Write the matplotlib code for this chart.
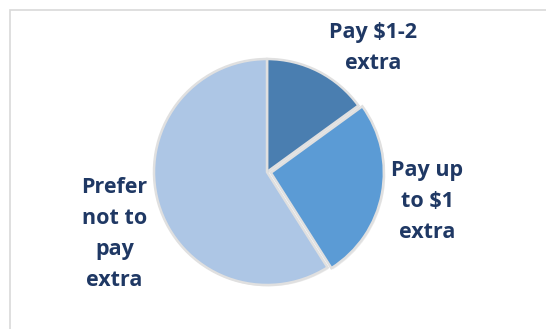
import matplotlib
matplotlib.use("Agg")
import matplotlib.pyplot as plt
import matplotlib.patheffects as pe
from matplotlib.patches import Rectangle

# willingness to pay for the option (share of respondents, %)
labels = ["Pay $1-2\nextra", "Pay up\nto $1\nextra", "Prefer\nnot to\npay\nextra"]
shares = [15, 26, 59]
colors = ["#4a7eb0", "#5b9bd5", "#adc6e5"]
explode = [0, 0.035, 0]

# label centres in data units (pie radius = 1)
label_pos = [(0.94, 1.10), (1.42, -0.26), (-1.35, -0.55)]

fig = plt.figure(figsize=(5.46, 3.29), dpi=100)
ax = fig.add_axes([0, 0, 1, 1])

wedges, texts = ax.pie(
    shares,
    labels=labels,
    colors=colors,
    explode=explode,
    startangle=90,
    counterclock=False,
    radius=1.0,
    wedgeprops=dict(edgecolor="#e0e0e0", linewidth=1.8),
    textprops=dict(fontsize=15.5, fontweight="bold", color="#1f3864",
                   family="Open Sans", linespacing=1.62),
)

for w in wedges:
    w.set_path_effects([pe.SimplePatchShadow(offset=(1, -1), alpha=0.15,
                                             shadow_rgbFace="#888888"),
                        pe.Normal()])

for t, (x, y) in zip(texts, label_pos):
    t.set_position((x, y))
    t.set_ha("center")
    t.set_va("center")

ax.set_xlim(-267 / 113, (546 - 267) / 113)
ax.set_ylim((172 - 329) / 113, 172 / 113)
ax.set_aspect("equal")
ax.axis("off")

# chart frame running off the right and bottom edges
fig.add_artist(Rectangle((10 / 546, -0.1), 1.2, 1 - 10 / 329 + 0.1,
                         transform=fig.transFigure, fill=False,
                         edgecolor="#d9d9d9", linewidth=1.2))

fig.savefig("out.png", dpi=100, facecolor="white")
